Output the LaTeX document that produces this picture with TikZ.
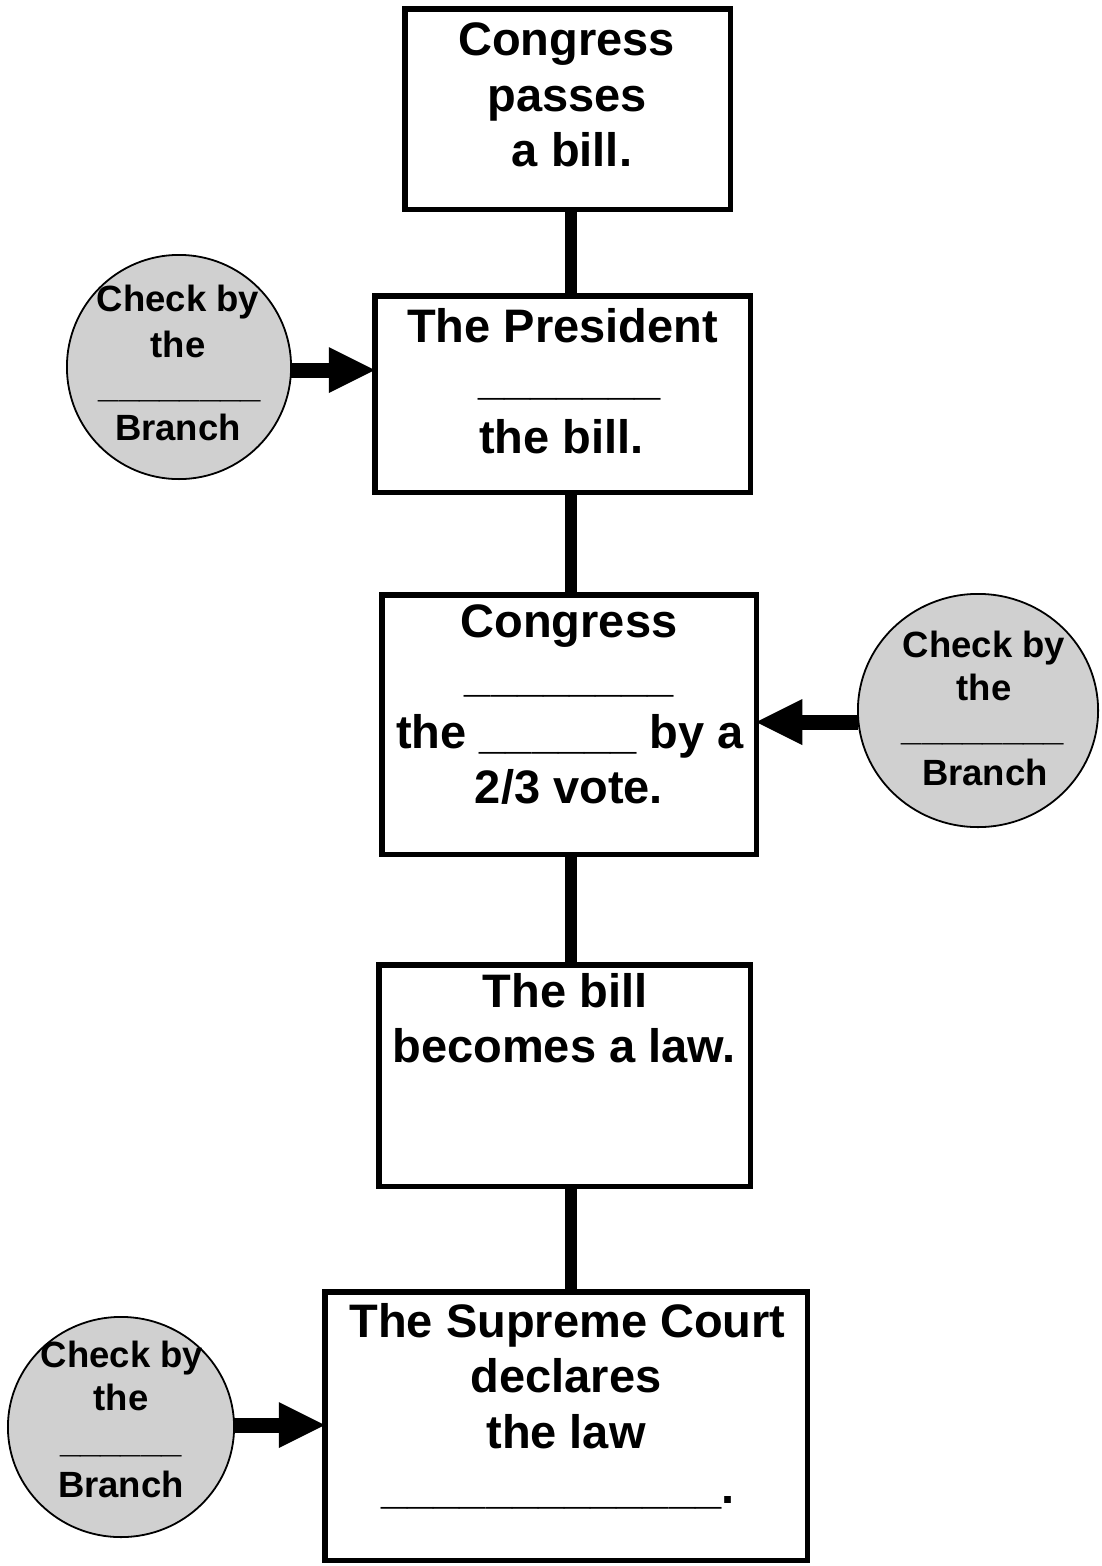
\documentclass[tikz,border=0pt]{standalone}
\usepackage{fontspec}
\setmainfont{Liberation Sans}
\usetikzlibrary{arrows.meta,shapes.geometric}
\definecolor{checkgray}{RGB}{208,208,208}

\begin{document}
\begin{tikzpicture}[x=1pt,y=-1pt,
  stepbox/.style={draw, line width=5.5pt, inner sep=0pt, outer sep=0pt},
  checkdisc/.style={draw, line width=1.8pt, fill=checkgray, ellipse, inner sep=0pt, outer sep=0pt},
  boxtext/.style={anchor=base, inner sep=0pt, font=\fontsize{47}{56}\selectfont\bfseries},
  disctext/.style={anchor=base, inner sep=0pt, font=\fontsize{36.5}{44}\selectfont\bfseries},
  spine/.style={line width=12pt},
  push/.style={line width=15pt, -{Triangle[length=46pt,width=46pt,line width=0pt]}}
]
\useasboundingbox (0,0) rectangle (1102,1566);

% the five steps
\node[stepbox, minimum width=325.5pt, minimum height=200.5pt] (b1) at (567.5,109) {};
\node[stepbox, minimum width=375.5pt, minimum height=196.5pt] (b2) at (562.5,394) {};
\node[stepbox, minimum width=374.5pt, minimum height=259.5pt] (b3) at (569,724.5) {};
\node[stepbox, minimum width=371.5pt, minimum height=221.5pt] (b4) at (564.5,1075.5) {};
\node[stepbox, minimum width=482.5pt, minimum height=268.5pt] (b5) at (566,1426) {};

% vertical spine joining the steps
\coordinate (spine) at (571,0);
\draw[spine] (b1.south -| spine) -- (b2.north -| spine);
\draw[spine] (b2.south -| spine) -- (b3.north -| spine);
\draw[spine] (b3.south -| spine) -- (b4.north -| spine);
\draw[spine] (b4.south -| spine) -- (b5.north -| spine);

% the checks
\node[checkdisc, minimum width=224.2pt, minimum height=224.2pt] (c1) at (179,367) {};
\node[checkdisc, minimum width=240.2pt, minimum height=233.2pt] (c2) at (978,710.5) {};
\node[checkdisc, minimum width=226.2pt, minimum height=220.2pt] (c3) at (121,1427) {};

\draw[push] (c1.east |- 0,370) -- (b2.west |- 0,370);
\draw[push] (c2.west |- 0,722) -- (b3.east |- 0,722);
\draw[push] (c3.east |- 0,1425) -- (b5.west |- 0,1425);

% step texts
\node[boxtext] (t11) at (566.5,55) {Congress};
\node[boxtext] (t12) at (567,111) {passes};
\node[boxtext] (t13) at (572,166) {a bill.};

\node[boxtext] (t21) at (562.5,342) {The President};
\node[boxtext] (t22) at (569.5,394) {\_\_\_\_\_\_\_};
\node[boxtext] (t23) at (561.5,453) {the bill.};

\node[boxtext] (t31) at (569,637) {Congress};
\node[boxtext] (t32) at (569.5,691) {\_\_\_\_\_\_\_\_};
\node[boxtext] (t33) at (570,748) {the \_\_\_\_\_\_ by a};
\node[boxtext] (t34) at (569,803) {2/3 vote.};

\node[boxtext] (t41) at (565,1007) {The bill};
\node[boxtext] (t42) at (564,1062) {becomes a law.};

\node[boxtext] (t51) at (567.5,1337) {The Supreme Court};
\node[boxtext] (t52) at (566,1392) {declares};
\node[boxtext] (t53) at (566,1448) {the law};
\node[boxtext] (t54) at (558,1503) {\_\_\_\_\_\_\_\_\_\_\_\_\_.};

% check texts
\node[disctext] (d11) at (178,311) {Check by};
\node[disctext] (d12) at (178,357) {the};
\node[disctext] (d13) at (180,397) {\_\_\_\_\_\_\_\_};
\node[disctext] (d14) at (178,440) {Branch};

\node[disctext] (d21) at (984,657) {Check by};
\node[disctext] (d22) at (984,700) {the};
\node[disctext] (d23) at (983,740) {\_\_\_\_\_\_\_\_};
\node[disctext] (d24) at (985,785) {Branch};

\node[disctext] (d31) at (122,1367) {Check by};
\node[disctext] (d32) at (121,1410) {the};
\node[disctext] (d33) at (121,1452) {\_\_\_\_\_\_};
\node[disctext] (d34) at (121,1497) {Branch};
\end{tikzpicture}
\end{document}
